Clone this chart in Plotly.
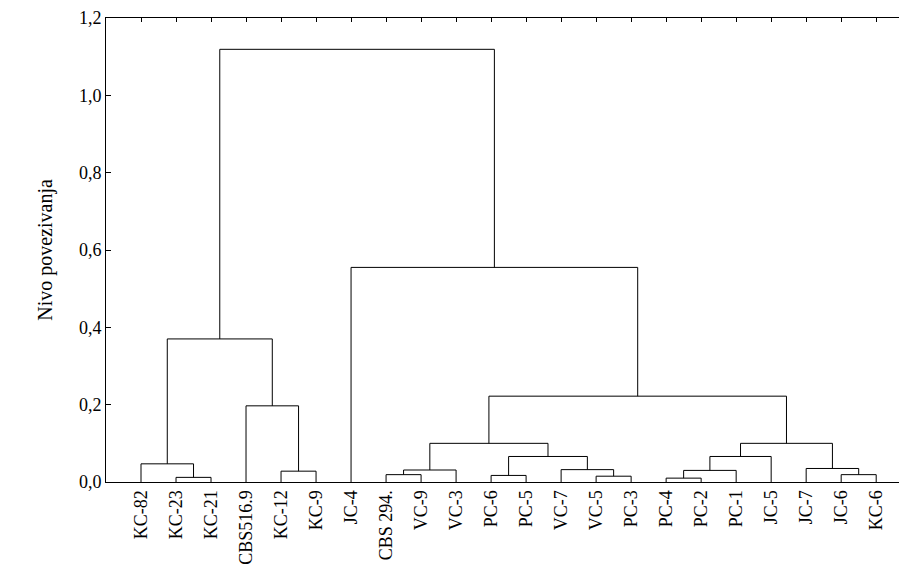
import plotly.graph_objects as go

leaves = ["KC-82", "KC-23", "KC-21", "CBS516.9", "KC-12", "KC-9", "JC-4", "CBS 294.",
          "VC-9", "VC-3", "PC-6", "PC-5", "VC-7", "VC-5", "PC-3", "PC-4", "PC-2",
          "PC-1", "JC-5", "JC-7", "JC-6", "KC-6"]

# merges: children are leaf names or "#k" for earlier merge k
merge_left = ["KC-23", "KC-82", "KC-12", "CBS516.9", "#1", "CBS 294.", "#5", "PC-6", "VC-5",
              "VC-7", "#7", "#6", "PC-4", "#12", "#13", "JC-6", "JC-7", "#14", "#11", "JC-4", "#4"]
merge_right = ["KC-21", "#0", "KC-9", "#2", "#3", "VC-9", "VC-3", "PC-5", "PC-3",
               "#8", "#9", "#10", "PC-2", "PC-1", "JC-5", "KC-6", "#15", "#16", "#17", "#18", "#19"]
merge_height = [0.012, 0.047, 0.028, 0.197, 0.370, 0.019, 0.031, 0.017, 0.015,
                0.032, 0.066, 0.100, 0.010, 0.030, 0.066, 0.019, 0.035, 0.100, 0.222, 0.555, 1.119]

pos = {n: i for i, n in enumerate(leaves)}
node = {}
def get(c):
    if c.startswith("#"):
        return node[int(c[1:])]
    return (pos[c], 0.0)

xs, ys = [], []
for k, (a, b, h) in enumerate(zip(merge_left, merge_right, merge_height)):
    xa, ha = get(a)
    xb, hb = get(b)
    xs += [xa, xa, xb, xb, None]
    ys += [ha, h, h, hb, None]
    node[k] = ((xa + xb) / 2, h)

font = "Liberation Serif, Times New Roman, serif"
fig = go.Figure()
fig.add_trace(go.Scatter(x=xs, y=ys, mode="lines", line=dict(color="black", width=1),
                         hoverinfo="skip", showlegend=False))
fig.add_trace(go.Scatter(x=[0], y=[0], xaxis="x2", mode="markers", marker=dict(opacity=0),
                         showlegend=False, hoverinfo="skip"))
xr = [-1, 21.88]
fig.update_layout(
    width=907, height=567, plot_bgcolor="white", paper_bgcolor="white",
    margin=dict(l=98, r=8, t=10, b=93),
    font=dict(family=font, color="black", size=18),
    xaxis=dict(range=xr, tickvals=list(range(len(leaves))), ticktext=leaves, tickangle=-90,
               showline=True, linecolor="black", linewidth=1, ticks="", showgrid=False,
               zeroline=False, tickfont=dict(size=18), automargin=False),
    xaxis2=dict(range=xr, overlaying="x", side="top", tickvals=list(range(len(leaves))),
                showticklabels=False, ticks="inside", ticklen=4, tickcolor="black",
                showline=True, linecolor="black", linewidth=1, showgrid=False, zeroline=False,
                automargin=False),
    yaxis=dict(range=[0, 1.2], tickvals=[0, 0.2, 0.4, 0.6, 0.8, 1.0, 1.2],
               ticktext=["0,0", "0,2", "0,4", "0,6", "0,8", "1,0", "1,2"],
               ticks="inside", ticklen=5, tickcolor="black", showline=True, linecolor="black",
               linewidth=1, showgrid=False, zeroline=False, automargin=False,
               title=dict(text="Nivo povezivanja", font=dict(size=20), standoff=20)),
)
fig.write_html("out.html")
